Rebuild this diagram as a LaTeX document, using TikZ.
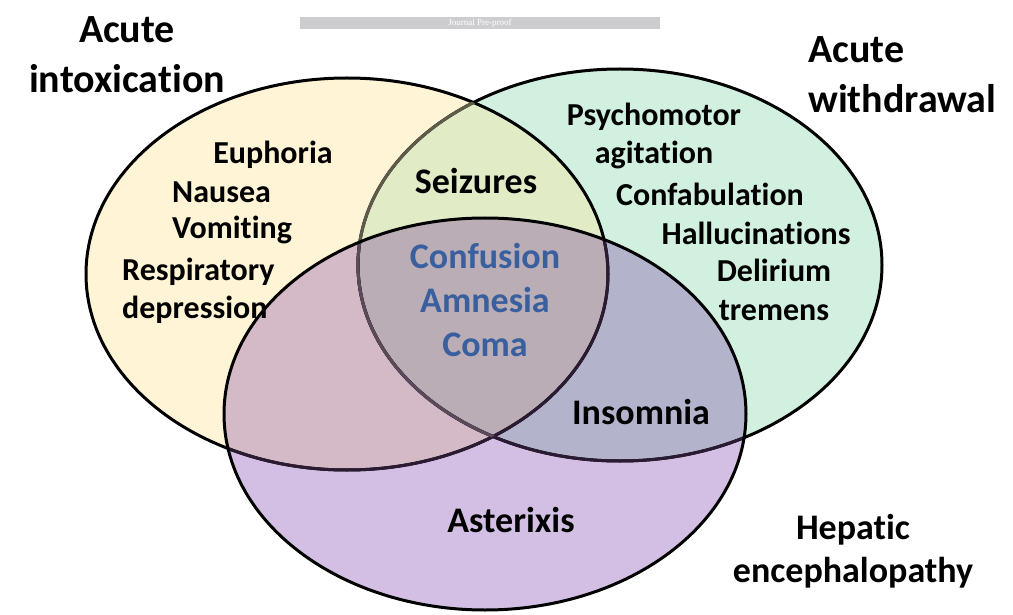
\documentclass[tikz,border=0pt]{standalone}
\usepackage{fontspec}
\setmainfont{Carlito}[Ligatures=NoCommon]
\newfontfamily\barfont{Liberation Serif}
\usepackage{xcolor}
\usepackage{tikz}

\definecolor{yel}{HTML}{FFF4D6}
\definecolor{grn}{HTML}{D2F0DF}
\definecolor{pur}{HTML}{D3BFE3}
\definecolor{yelgrn}{HTML}{E1ECC7}
\definecolor{yelpur}{HTML}{D4B9C6}
\definecolor{grnpur}{HTML}{B3B4CC}
\definecolor{allthree}{HTML}{BAADB5}
\definecolor{olive}{HTML}{5E5C48}
\definecolor{dpur}{HTML}{2A1A32}
\definecolor{gpur}{HTML}{5A4A5A}
\definecolor{bluetxt}{HTML}{3A5F9F}
\definecolor{barcol}{HTML}{CDCDCF}

\newcommand{\elIntox}{(347,274) ellipse [x radius=261pt, y radius=196pt]}
\newcommand{\elWithd}{(620,265) ellipse [x radius=262pt, y radius=196pt]}
\newcommand{\elHepat}{(485,414) ellipse [x radius=261pt, y radius=196pt]}

\begin{document}
\begin{tikzpicture}[x=1pt,y=-1pt,
  rim/.style={line width=3pt},
  title/.style={font=\fontsize{40}{50}\selectfont\bfseries, inner sep=0pt},
  sym/.style={font=\fontsize{32}{38.5}\selectfont\bfseries, align=center, inner sep=0pt},
  core/.style={font=\fontsize{36}{44}\selectfont\bfseries, align=center, inner sep=0pt}]
\useasboundingbox (0,0) rectangle (1013,615);
% fills
\fill[yel] \elIntox;
\fill[grn] \elWithd;
\fill[pur] \elHepat;
\begin{scope}
\clip \elIntox;
\fill[yelgrn] \elWithd;
\fill[yelpur] \elHepat;
\end{scope}
\begin{scope}
\clip \elWithd;
\fill[grnpur] \elHepat;
\clip \elIntox;
\fill[allthree] \elHepat;
\end{scope}
% outlines
\draw[rim] \elWithd;
\draw[rim] \elIntox;
\begin{scope}
\clip \elIntox;
\draw[rim,olive] \elWithd;
\end{scope}
\begin{scope}
\clip \elHepat;
\draw[rim,dpur] \elIntox;
\draw[rim,dpur] \elWithd;
\clip \elIntox;
\draw[rim,gpur] \elWithd;
\end{scope}
\draw[rim] \elHepat;

% header bar
\node[fill=barcol, minimum width=360pt, minimum height=12pt, inner sep=0pt,
  font=\barfont\fontsize{9}{9}\selectfont, text=white](bar) at (480,23){Journal Pre-proof};

% titles
\node[title, align=center](ai) at (127,55){Acute\\intoxication};
\node[title, align=left, anchor=west](aw) at (808,75){Acute\\withdrawal};
\node[title, align=center, font=\fontsize{36}{43}\selectfont\bfseries](he) at (853,551){Hepatic\\encephalopathy};

% intoxication only
\node[sym](eu) at (273,155){Euphoria};
\node[sym, anchor=west](na) at (172,192){Nausea};
\node[sym, anchor=west](vo) at (172,230){Vomiting};
\node[sym, align=left, anchor=west](rd) at (122,291){Respiratory\\depression};

% withdrawal only
\node[sym](pa) at (654,136){Psychomotor\\agitation};
\node[sym](cf) at (710,194){Confabulation};
\node[sym](ha) at (756,233){Hallucinations};
\node[sym](dt) at (774,290){Delirium\\tremens};

% overlaps
\node[core](se) at (476,181){Seizures};
\node[core, text=bluetxt](cac) at (485,300){Confusion\\Amnesia\\Coma};
\node[core](in) at (641,412){Insomnia};
\node[core](as) at (511,520){Asterixis};
\end{tikzpicture}
\end{document}
